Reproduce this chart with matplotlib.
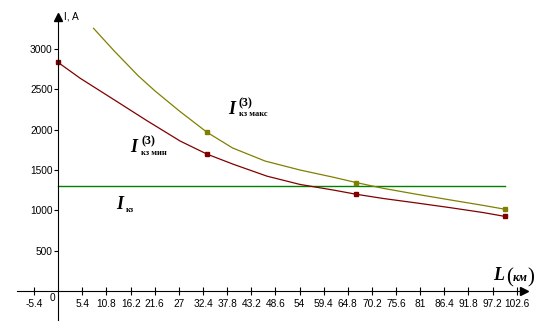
import matplotlib
matplotlib.use("Agg")
import matplotlib.pyplot as plt

# cable length, km
L_min = [0, 4.9, 12.3, 19.8, 27.3, 33.3, 39.2, 46.7, 54.1, 61.6, 66.7, 72.7, 80.2, 87.7, 95.1, 100]
I_min = [2835, 2640, 2380, 2115, 1860, 1698, 1572, 1425, 1322, 1252, 1200, 1148, 1092, 1034, 973, 925]

L_max = [7.9, 12.5, 17.9, 21.7, 27.3, 33.3, 39.0, 46.3, 54.1, 61.6, 66.7, 72.7, 80.2, 87.7, 95.1, 100]
I_max = [3259, 2980, 2670, 2480, 2225, 1969, 1775, 1612, 1501, 1411, 1345, 1274, 1200, 1130, 1062, 1014]

# points shown with markers
L_pts = [0, 33.3, 66.7, 100]
I_min_pts = [2835, 1698, 1200, 925]
I_max_pts = [1969, 1345, 1014]

# setting current
L_sz = [0, 100]
I_sz = [1300, 1300]

x_ticks = [-5.4, 5.4, 10.8, 16.2, 21.6, 27, 32.4, 37.8, 43.2, 48.6, 54, 59.4,
           64.8, 70.2, 75.6, 81, 86.4, 91.8, 97.2, 102.6]
x_labels = ["-5.4", "5.4", "10.8", "16.2", "21.6", "27", "32.4", "37.8", "43.2", "48.6",
            "54", "59.4", "64.8", "70.2", "75.6", "81", "86.4", "91.8", "97.2", "102.6"]
y_ticks = [500, 1000, 1500, 2000, 2500, 3000]

RED = "#800000"
OLIVE = "#808000"
GREEN = "#008000"

plt.rcParams["font.family"] = "Liberation Sans"

fig = plt.figure(figsize=(5.48, 3.33), dpi=100)
ax = fig.add_axes([0, 0, 1, 1])
ax.set_xlim(-13.02, 109.6)
ax.set_ylim(-521, 3610)

# axes through the origin
for s in ["top", "right"]:
    ax.spines[s].set_visible(False)
ax.spines["left"].set_position(("data", 0))
ax.spines["bottom"].set_position(("data", 0))
ax.spines["left"].set_bounds(-360, 3400)
ax.spines["bottom"].set_bounds(-9.2, 104)
ax.patch.set_visible(False)
ax.plot([0], [3403], marker="^", ms=6, color="black", clip_on=False)
ax.plot([104.2], [0], marker=">", ms=6, color="black", clip_on=False)

ax.set_xticks(x_ticks)
ax.set_xticklabels(x_labels)
ax.set_yticks(y_ticks)
ax.tick_params(axis="x", direction="inout", length=6, pad=2.5, labelsize=7.3)
ax.tick_params(axis="y", direction="out", length=3, pad=1, labelsize=7.3)
ax.text(-1.2, -90, "0", fontsize=7.3, ha="center", va="center")
ax.text(1.2, 3403, "I, A", fontsize=7.3, ha="left", va="center")

ax.plot(L_sz, I_sz, color=GREEN, lw=1)
ax.plot(L_max, I_max, color=OLIVE, lw=0.9)
ax.plot(L_min, I_min, color=RED, lw=0.9)
ax.plot(L_pts[1:], I_max_pts, "s", color=OLIVE, ms=2.2)
ax.plot(L_pts, I_min_pts, "s", color=RED, ms=2.2, clip_on=False)

# curve labels
big = dict(family="Liberation Serif", fontweight="bold", fontstyle="italic", fontsize=13)
sup = dict(family="Liberation Serif", fontweight="bold", fontsize=8.5)
sub = dict(family="Liberation Serif", fontweight="bold", fontsize=6)

ax.text(38.0, 2196, "I", **big)
ax.text(40.4, 2290, "(3)", **sup)
ax.text(40.4, 2168, "кз макс", **sub)

ax.text(16.2, 1721, "I", **big)
ax.text(18.6, 1815, "(3)", **sup)
ax.text(18.6, 1690, "кз мин", **sub)

ax.text(13.0, 1017, "I", **big)
ax.text(15.2, 978, "кз", **sub)

ax.text(97.3, 136, "L", **big)
ax.text(100.3, 100, "(", family="Liberation Serif", fontsize=15)
ax.text(101.7, 130, "км", family="Liberation Serif", fontweight="bold",
        fontstyle="italic", fontsize=9)
ax.text(105.0, 100, ")", family="Liberation Serif", fontsize=15)

fig.savefig("out.png", dpi=100)
